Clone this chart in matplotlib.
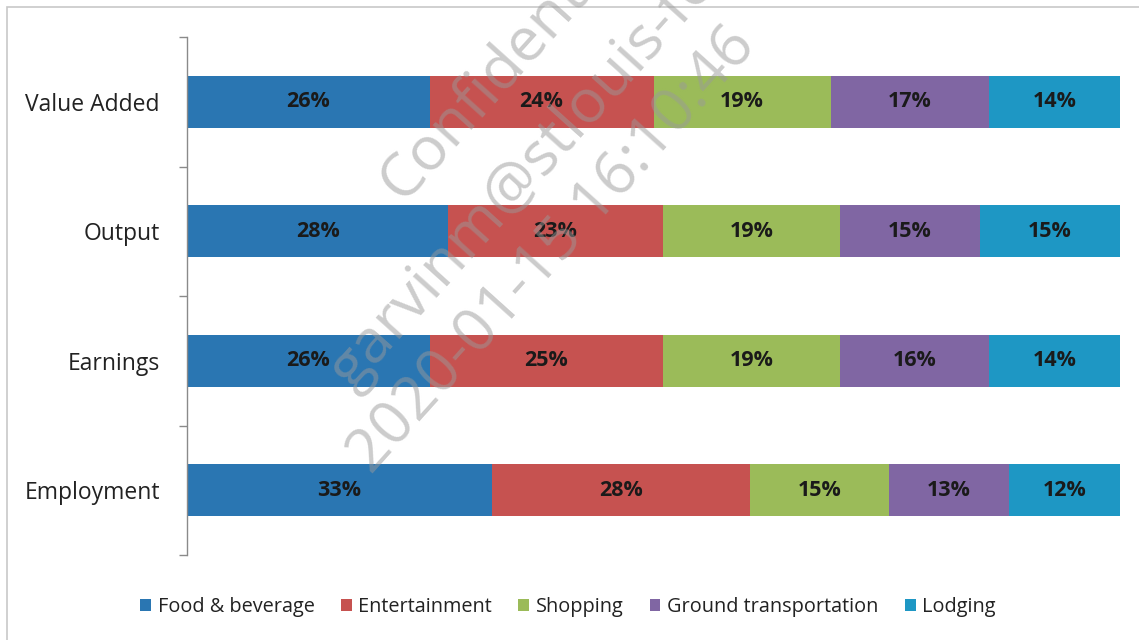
import matplotlib.pyplot as plt
from matplotlib.patches import Rectangle, Patch

# Shares of visitor spending impact by sector
categories = ["Employment", "Earnings", "Output", "Value Added"]
sectors = ["Food & beverage", "Entertainment", "Shopping",
           "Ground transportation", "Lodging"]
food = [33, 26, 28, 26]
entertainment = [28, 25, 23, 24]
shopping = [15, 19, 19, 19]
ground = [13, 16, 15, 17]
lodging = [12, 14, 15, 14]
series = [food, entertainment, shopping, ground, lodging]
colors = ["#2A76B2", "#C65250", "#9BBB59", "#8066A3", "#1E97C4"]

W, H = 1139, 640
plt.rcParams["font.family"] = ["Open Sans", "DejaVu Sans"]
fig = plt.figure(figsize=(W / 100, H / 100), dpi=100)

# chart frame
fig.patches.append(Rectangle((7 / W, -0.1), 1.2, 1 - 7 / H + 0.1,
                             transform=fig.transFigure, fill=False,
                             edgecolor="#c8c8c8", linewidth=1.2, zorder=0))

ax = fig.add_axes([187 / W, 1 - 555 / H, (1120 - 187) / W, (555 - 37) / H])
ypos = list(range(len(categories)))
totals = [sum(s[i] for s in series) for i in ypos]
left = [0.0] * len(categories)
for name, vals, col in zip(sectors, series, colors):
    share = [v / t for v, t in zip(vals, totals)]
    ax.barh(ypos, share, left=left, height=0.4, color=col, label=name,
            edgecolor="none")
    for y, v, s, l in zip(ypos, vals, share, left):
        ax.text(l + s / 2, y, f"{v}%", ha="center", va="center",
                fontsize=15.5, fontweight="bold", color="#1a1a1a")
    left = [l + s for l, s in zip(left, share)]

ax.set_xlim(0, 1)
ax.set_ylim(-0.5, len(categories) - 0.5)
ax.set_xticks([])
ax.set_yticks(ypos)
ax.set_yticklabels(categories, fontsize=16.5, color="#222222")
ax.set_yticks([i - 0.5 for i in range(len(categories) + 1)], minor=True)
ax.tick_params(axis="y", which="major", length=0, pad=19.5)
ax.tick_params(axis="y", which="minor", length=6, width=1,
               color="#8a8a8a", direction="out")
for side in ("top", "right", "bottom"):
    ax.spines[side].set_visible(False)
ax.spines["left"].set_color("#8a8a8a")
ax.spines["left"].set_linewidth(1)

handles = [Patch(facecolor=c, edgecolor="none", label=n)
           for n, c in zip(sectors, colors)]
fig.legend(handles=handles, loc="center", bbox_to_anchor=(568 / W, 1 - 607 / H),
           ncol=5, frameon=False, fontsize=14.3, handlelength=0.55,
           handleheight=0.55, handletextpad=0.35, columnspacing=1.3,
           labelcolor="#222222")

# watermark
wm_lines = [("Confidential", 402, 203),
            ("garvinm@stlouis-fed.org", 352, 392),
            ("2020-01-15 16:10:46", 372, 476)]
for txt, px, py in wm_lines:
    fig.text(px / W, 1 - py / H, txt, rotation=48, rotation_mode="anchor",
             ha="left", va="baseline", fontsize=44, color="#9a9a9a",
             alpha=0.5, zorder=10)

fig.savefig("out.png", dpi=100)
